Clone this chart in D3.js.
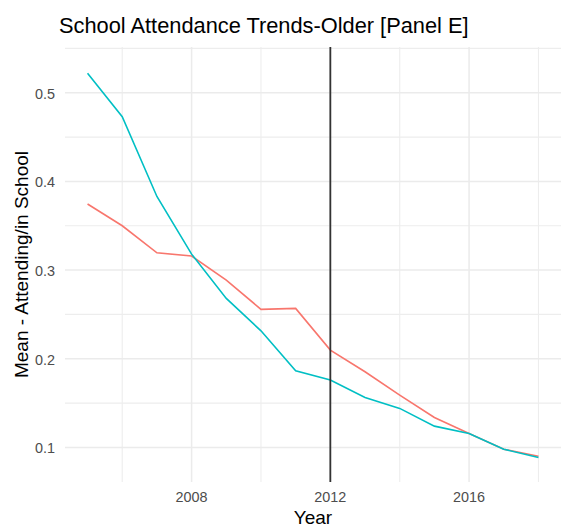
<!DOCTYPE html>
<html>
<head>
<meta charset="utf-8">
<script src="https://cdn.jsdelivr.net/npm/d3@7"></script>
<style>
  body { margin: 0; background: #fff; }
  text { font-family: "Liberation Sans", Arial, sans-serif; }
</style>
</head>
<body>
<div class="container"></div>
<script>
const years = [2005, 2006, 2007, 2008, 2009, 2010, 2011, 2012, 2013, 2014, 2015, 2016, 2017, 2018];
const seriesA = [0.3745, 0.350, 0.3195, 0.3158, 0.2887, 0.2557, 0.2568, 0.2098, 0.1853, 0.159, 0.1338, 0.1158, 0.098, 0.090];
const seriesB = [0.522, 0.473, 0.383, 0.318, 0.268, 0.2315, 0.1864, 0.176, 0.1564, 0.144, 0.124, 0.1158, 0.098, 0.0887];
const seriesColors = ['#F8766D', '#00BFC4'];
const xMajor = [2008, 2012, 2016];
const xMinor = [2006, 2010, 2014, 2018];
const yMajor = [0.1, 0.2, 0.3, 0.4, 0.5];
const yMinor = [0.15, 0.25, 0.35, 0.45, 0.55];
const cutoffYear = 2012;

const width = 564;
const height = 529;
const panel = {left: 65, right: 561, top: 47, bottom: 482};

const svg = d3.select('.container').append('svg')
    .attr('width', width)
    .attr('height', height);

const x = d3.scaleLinear()
    .domain([2004.35, 2018.65])
    .range([panel.left, panel.right]);

const y = d3.scaleLinear()
    .domain([0.061, 0.5516])
    .range([panel.bottom, panel.top]);

// grid
const grid = svg.append('g');
grid.selectAll('.xminor').data(xMinor).enter().append('line')
    .attr('x1', d => x(d)).attr('x2', d => x(d))
    .attr('y1', panel.top).attr('y2', panel.bottom)
    .attr('stroke', '#EDEDED').attr('stroke-width', 1.1);
grid.selectAll('.yminor').data(yMinor).enter().append('line')
    .attr('x1', panel.left).attr('x2', panel.right)
    .attr('y1', d => y(d)).attr('y2', d => y(d))
    .attr('stroke', '#EDEDED').attr('stroke-width', 1.1);
grid.selectAll('.xmajor').data(xMajor).enter().append('line')
    .attr('x1', d => x(d)).attr('x2', d => x(d))
    .attr('y1', panel.top).attr('y2', panel.bottom)
    .attr('stroke', '#EBEBEB').attr('stroke-width', 1.5);
grid.selectAll('.ymajor').data(yMajor).enter().append('line')
    .attr('x1', panel.left).attr('x2', panel.right)
    .attr('y1', d => y(d)).attr('y2', d => y(d))
    .attr('stroke', '#EBEBEB').attr('stroke-width', 1.5);

// lines
const line = d3.line()
    .x((d, i) => x(years[i]))
    .y(d => y(d));

svg.selectAll('.series')
    .data([seriesA, seriesB])
    .enter()
    .append('path')
    .attr('d', line)
    .attr('fill', 'none')
    .attr('stroke', (d, i) => seriesColors[i])
    .attr('stroke-width', 1.6);

// cutoff
svg.append('line')
    .attr('x1', x(cutoffYear)).attr('x2', x(cutoffYear))
    .attr('y1', panel.top).attr('y2', panel.bottom)
    .attr('stroke', '#333').attr('stroke-width', 1.8);

// tick labels
svg.selectAll('.xtick').data(xMajor).enter().append('text')
    .attr('x', d => x(d))
    .attr('y', 502)
    .attr('text-anchor', 'middle')
    .attr('fill', '#4D4D4D')
    .style('font-size', '14.4px')
    .text(d => d);

svg.selectAll('.ytick').data(yMajor).enter().append('text')
    .attr('x', 55)
    .attr('y', d => y(d) + 6)
    .attr('text-anchor', 'end')
    .attr('fill', '#4D4D4D')
    .style('font-size', '14.4px')
    .text(d => d3.format('.1f')(d));

// titles
svg.append('text')
    .attr('x', (panel.left + panel.right) / 2)
    .attr('y', 524)
    .attr('text-anchor', 'middle')
    .attr('fill', '#000')
    .style('font-size', '19px')
    .text('Year');

svg.append('text')
    .attr('transform', `translate(28,${(panel.top + panel.bottom) / 2}) rotate(-90)`)
    .attr('text-anchor', 'middle')
    .attr('fill', '#000')
    .style('font-size', '19px')
    .text('Mean - Attending/in School');

svg.append('text')
    .attr('x', 59)
    .attr('y', 32.5)
    .attr('fill', '#000')
    .style('font-size', '21.8px')
    .text('School Attendance Trends-Older [Panel E]');
</script>
</body>
</html>
